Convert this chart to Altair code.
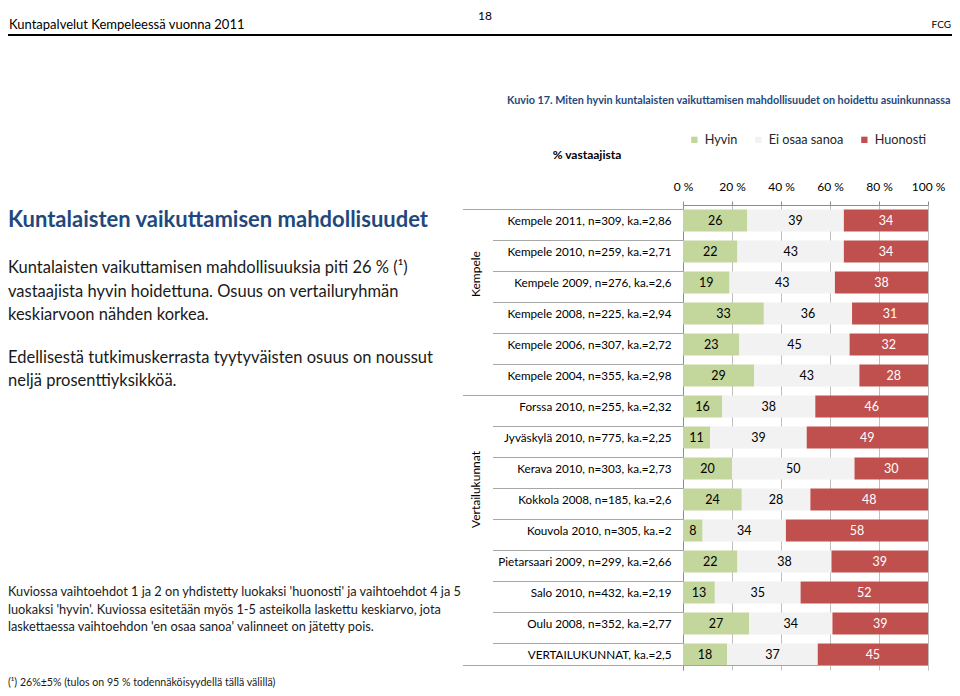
import altair as alt
import pandas as pd

labels = [
    "Kempele 2011, n=309, ka.=2,86",
    "Kempele 2010, n=259, ka.=2,71",
    "Kempele 2009, n=276, ka.=2,6",
    "Kempele 2008, n=225, ka.=2,94",
    "Kempele 2006, n=307, ka.=2,72",
    "Kempele 2004, n=355, ka.=2,98",
    "Forssa 2010, n=255, ka.=2,32",
    "Jyväskylä 2010, n=775, ka.=2,25",
    "Kerava 2010, n=303, ka.=2,73",
    "Kokkola 2008, n=185, ka.=2,6",
    "Kouvola 2010, n=305, ka.=2",
    "Pietarsaari 2009, n=299, ka.=2,66",
    "Salo 2010, n=432, ka.=2,19",
    "Oulu 2008, n=352, ka.=2,77",
    "VERTAILUKUNNAT, ka.=2,5",
]
hyvin = [26, 22, 19, 33, 23, 29, 16, 11, 20, 24, 8, 22, 13, 27, 18]
eos = [39, 43, 43, 36, 45, 43, 38, 39, 50, 28, 34, 38, 35, 34, 37]
huonosti = [34, 34, 38, 31, 32, 28, 46, 49, 30, 48, 58, 39, 52, 39, 45]
categories = ["Hyvin", "Ei osaa sanoa", "Huonosti"]
colors = ["#c3d69b", "#f2f2f2", "#c0504d"]
x_ticks = [0, 0.2, 0.4, 0.6, 0.8, 1.0]

header_left = "Kuntapalvelut Kempeleessä vuonna 2011"
header_right = "FCG"
page_no = "18"
chart_title = "Kuvio 17. Miten hyvin kuntalaisten vaikuttamisen mahdollisuudet on hoidettu asuinkunnassa"
axis_caption = "% vastaajista"
left_title = "Kuntalaisten vaikuttamisen mahdollisuudet"
body_lines = [
    "Kuntalaisten vaikuttamisen mahdollisuuksia piti 26 % (¹)",
    "vastaajista hyvin hoidettuna. Osuus on vertailuryhmän",
    "keskiarvoon nähden korkea.",
    "Edellisestä tutkimuskerrasta tyytyväisten osuus on noussut",
    "neljä prosenttiyksikköä.",
]
note_lines = [
    "Kuviossa vaihtoehdot 1 ja 2 on yhdistetty luokaksi 'huonosti' ja vaihtoehdot 4 ja 5",
    "luokaksi 'hyvin'. Kuviossa esitetään myös 1-5 asteikolla laskettu keskiarvo, jota",
    "laskettaessa vaihtoehdon 'en osaa sanoa' valinneet on jätetty pois.",
]
footnote = "(¹) 26%±5% (tulos on 95 % todennäköisyydellä tällä välillä)"
groups = ["Kempele", "Vertailukunnat"]

rows = []
for i, lab in enumerate(labels):
    for j, (cat, vals) in enumerate(zip(categories, [hyvin, eos, huonosti])):
        rows.append({"label": lab, "cat": cat, "value": vals[i], "order": j})
df = pd.DataFrame(rows)

FONT = "Lato"
BLUE = "#1f497d"
TXT = "#1a1a1a"

yscale = alt.Scale(domain=labels, paddingInner=0.29, paddingOuter=0.145)

base = alt.Chart(df).transform_stack(
    stack="value", groupby=["label"], as_=["v0", "v1"], offset="normalize",
    sort=[alt.SortField("order", order="ascending")]
).transform_calculate(mid="(datum.v0 + datum.v1) / 2")

bars = base.mark_bar().encode(
    y=alt.Y("label:N", scale=yscale, sort=labels,
            axis=alt.Axis(title=None, ticks=False, domain=True, domainColor="#8c8c8c",
                          labelPadding=12, labelFontSize=11.7, labelFont=FONT,
                          labelColor="black", labelLimit=400, grid=False)),
    x=alt.X("v0:Q", scale=alt.Scale(domain=[0, 1], nice=False),
            axis=alt.Axis(orient="top", values=x_ticks, title=None,
                          labelExpr="format(datum.value * 100, 'd') + ' %'",
                          labelFontSize=12, labelFont=FONT, labelColor="black",
                          labelFlush=False, labelPadding=8, tickSize=4,
                          tickColor="#8c8c8c", domainColor="#8c8c8c",
                          grid=True, gridColor="#bfbfbf")),
    x2="v1:Q",
    color=alt.Color("cat:N", scale=alt.Scale(domain=categories, range=colors),
                    legend=alt.Legend(orient="none", legendX=5, legendY=-72,
                                      direction="horizontal", title=None,
                                      symbolType="square", symbolSize=40,
                                      symbolStrokeWidth=0, labelFontSize=12.7,
                                      labelFont=FONT, labelColor="#262626",
                                      columnPadding=14, labelOffset=4)),
)

bar_text = base.mark_text(font=FONT, fontSize=12.5).encode(
    y=alt.Y("label:N", scale=yscale, sort=labels),
    x=alt.X("mid:Q"),
    text=alt.Text("value:Q"),
    color=alt.condition("datum.cat == 'Huonosti'", alt.value("white"), alt.value("black")),
)

sep_df = pd.DataFrame({"label": labels[1:]})
row_seps = alt.Chart(sep_df).mark_rule(color="#a6a6a6", strokeWidth=1).encode(
    y=alt.Y("label:N", scale=yscale, sort=labels, bandPosition=0),
    x=alt.value(-190), x2=alt.value(0),
)

grp_top = pd.DataFrame({"label": [labels[0], labels[6]]})
grp_rules = alt.Chart(grp_top).mark_rule(color="#a6a6a6", strokeWidth=1).encode(
    y=alt.Y("label:N", scale=yscale, sort=labels, bandPosition=0),
    x=alt.value(-220), x2=alt.value(0),
)
grp_bot = pd.DataFrame({"label": [labels[-1]]})
bottom_rule = alt.Chart(grp_bot).mark_rule(color="#a6a6a6", strokeWidth=1).encode(
    y=alt.Y("label:N", scale=yscale, sort=labels, bandPosition=1),
    x=alt.value(-220), x2=alt.value(245),
)


def txt(s, x, y, size, bold=False, color=TXT, align="left", font=FONT, angle=0):
    return alt.Chart(alt.Data(values=[{}])).mark_text(
        text=s, x=x, y=y, fontSize=size, fontWeight="bold" if bold else "normal",
        color=color, align=align, baseline="middle", font=font, angle=angle)


LX = -675
texts = [
    txt(page_no, -198, -189, 12, align="center", color="black"),
    txt(header_left, -674, -180, 13, color="black"),
    txt(header_right, 268, -180, 10, align="right", color="black"),
    txt(chart_title, -176, -104, 10.8, bold=True, color=BLUE),
    txt(axis_caption, -96, -50, 12, bold=True, color="black", align="center"),
    txt(left_title, LX, 15, 22, bold=True, color=BLUE),
    txt(groups[0], -207, 92, 12, angle=270, color="black"),
    txt(groups[1], -207, 323, 12, angle=270, color="black"),
    txt(footnote, LX, 478, 10.6),
]
for s, yy in zip(body_lines, [63, 87, 110, 153, 176]):
    texts.append(txt(s, LX, yy, 16.5))
for s, yy in zip(note_lines, [387, 405, 422]):
    texts.append(txt(s, LX, yy, 12.75))

header_rule = alt.Chart(alt.Data(values=[{}])).mark_rule(color="black", strokeWidth=2).encode(
    x=alt.value(-675), x2=alt.value(269), y=alt.value(-170))

chart = alt.layer(bars, bar_text, row_seps, grp_rules, bottom_rule, header_rule, *texts).properties(
    width=245, height=465, autosize="none",
    padding={"left": 675, "top": 197, "right": 24, "bottom": 18},
).configure_view(strokeWidth=0)

chart.save("out.html", embed_options={"renderer": "svg", "actions": False})
